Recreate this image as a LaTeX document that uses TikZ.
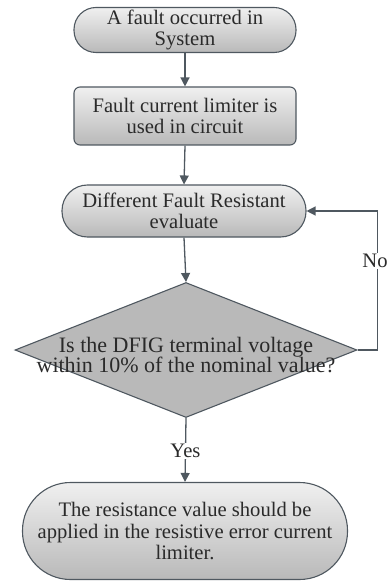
\documentclass[tikz,border=0pt]{standalone}
\usepackage{fontspec}
\setmainfont{Liberation Serif}
\usetikzlibrary{shapes.geometric, arrows.meta}
\definecolor{edgegray}{HTML}{4F5860}
\definecolor{textgray}{HTML}{2A2A2A}
\tikzset{
  box/.style={draw=edgegray, line width=1.1pt, top color=gray!12, bottom color=gray!55, text=textgray, align=center, inner sep=1pt},
  terminal/.style={box, rectangle, rounded corners=#1},
  process/.style={box, rectangle, rounded corners=6pt},
  decision/.style={draw=edgegray, line width=1.1pt, fill=gray!55, diamond, inner sep=0pt},
  flow/.style={-{Triangle[width=9pt,length=9pt]}, line width=1.3pt, draw=edgegray},
  tag/.style={fill=white, text=textgray, inner sep=1pt}
}
\begin{document}
\begin{tikzpicture}[x=1pt, y=-1pt, every node/.style={font=\fontsize{20.6}{21.5}\selectfont}]
  \useasboundingbox (0,0) rectangle (388,585);
  \node[terminal=22pt, minimum width=222pt, minimum height=45pt] (fault) at (185,30) {A fault occurred in\\ System};
  \node[process, minimum width=222pt, minimum height=58pt] (limiter) at (185,116) {Fault current limiter is\\ used in circuit};
  \node[terminal=25.5pt, minimum width=244pt, minimum height=52pt] (evaluate) at (184,211) {Different Fault Resistant\\ evaluate};
  \node[decision, minimum width=342pt, minimum height=135pt] (check) at (186,350) {};
  \node[text=textgray, align=center, font=\fontsize{22}{20.5}\selectfont] (checktext) at ([yshift=-5pt]check.center) {Is the DFIG terminal voltage\\ within 10\% of the nominal value?};
  \node[terminal=48pt, minimum width=325pt, minimum height=97pt] (result) at (185,531) {The resistance value should be\\ applied in the resistive error current\\ limiter.};
  \draw[flow] (fault.south) -- (limiter.north);
  \draw[flow] (limiter.south) -- (evaluate.north);
  \draw[flow] (evaluate.south) -- (check.north);
  \draw[flow] (check.east) -- ++(20,0) |- node[tag, pos=0.32, xshift=-2.5pt] {No} (evaluate.east);
  \draw[flow] (check.south) -- node[tag, pos=0.52] {Yes} (result.north);
\end{tikzpicture}
\end{document}
